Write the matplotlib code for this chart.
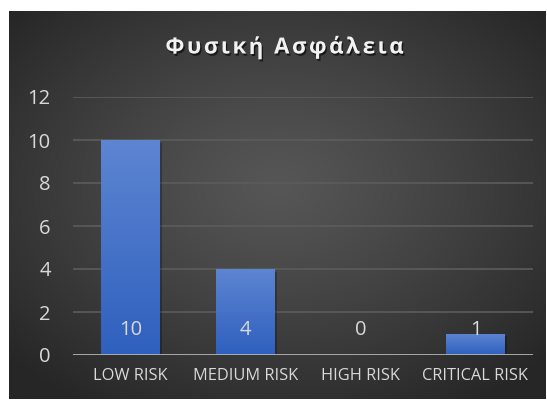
import numpy as np
import matplotlib
matplotlib.use("Agg")
import matplotlib.pyplot as plt
from matplotlib import patheffects as pe

categories = ["LOW RISK", "MEDIUM RISK", "HIGH RISK", "CRITICAL RISK"]
values = [10, 4, 0, 1]
y_ticks = [0, 2, 4, 6, 8, 10, 12]
title = "Φυσική Ασφάλεια"

W, H = 547, 401
plt.rcParams["font.family"] = ["Open Sans", "DejaVu Sans"]
fig = plt.figure(figsize=(W / 100, H / 100), dpi=100, facecolor="white")

# dark panel with a soft radial glow
bx0, by0, bx1, by1 = 9, 11, 546, 399
bg = fig.add_axes([bx0 / W, 1 - by1 / H, (bx1 - bx0) / W, (by1 - by0) / H])
yy, xx = np.mgrid[0:1:300j, 0:1:400j]
r = np.sqrt(((xx - 0.5) / 0.75) ** 2 + ((yy - 0.45) / 0.75) ** 2)
shade = 0x56 - (0x56 - 0x26) * np.clip(r / 0.9, 0, 1) ** 1.2
img = np.dstack([shade, shade, shade]) / 255.0
bg.imshow(img, aspect="auto", extent=[0, 1, 0, 1], interpolation="bilinear")
bg.set_axis_off()

# plotting area
ax = fig.add_axes([73 / W, 1 - 355 / H, 460 / W, (355 - 97) / H])
ax.patch.set_visible(False)
x = np.arange(len(categories))
ax.set_yticks(y_ticks)
ax.set_yticklabels([str(t) for t in y_ticks])
ax.set_xticks(x)
ax.set_xticklabels(categories)
for s in ax.spines.values():
    s.set_visible(False)
ax.tick_params(length=0, colors="#d9d9d9")
ax.tick_params(axis="y", labelsize=14.5, pad=16)
ax.tick_params(axis="x", labelsize=11.8, pad=9)
for t in y_ticks[1:]:
    ax.axhline(t, color="#5c5c5c", lw=1.2, zorder=1)
ax.axhline(0, color="#b3b3b3", lw=2, zorder=4)

bars = ax.bar(x, values, width=0.51, color="#4472c4", zorder=2)
grad = np.linspace(0, 1, 256).reshape(-1, 1)
top_c = np.array([0x5d, 0x85, 0xd2]) / 255
bot_c = np.array([0x2f, 0x60, 0xbe]) / 255
gimg = bot_c[None, None, :] * (1 - grad[..., None]) + top_c[None, None, :] * grad[..., None]
for b in bars:
    h = b.get_height()
    if h <= 0:
        continue
    # drop shadow
    ax.bar(b.get_x() + b.get_width() / 2 + 0.02, h, width=b.get_width(), bottom=-0.12,
           color="black", alpha=0.25, zorder=1.5, linewidth=0)
    im = ax.imshow(gimg, extent=[b.get_x(), b.get_x() + b.get_width(), 0, h],
                   origin="lower", aspect="auto", zorder=3)
    im.set_clip_path(b)
ax.set_xlim(-0.5, len(categories) - 0.5)
ax.set_ylim(0, 12)

for xi, v in zip(x, values):
    ax.annotate(str(v), (xi, 0), xytext=(0, 18), textcoords="offset points",
                ha="center", va="center", color="#d9d9d9", fontsize=14.5, zorder=5)

# letter-spaced title
renderer = fig.canvas.get_renderer()
tkw = dict(color="#f2f2f2", fontsize=16, fontweight="bold", va="center", ha="left")
spacing = 2.5  # extra pixels between letters


def text_width(s):
    t = fig.text(0, 0, s, **tkw)
    w = t.get_window_extent(renderer).width
    t.remove()
    return w


probe = text_width("l")
offsets = [text_width(title[:i] + "l") - probe if i else 0.0 for i in range(len(title))]
full = text_width(title) + spacing * (len(title) - 1)
cx = 284.5
start = cx - full / 2
for i, ch in enumerate(title):
    if ch == " ":
        continue
    px = start + offsets[i] + spacing * i
    fig.text(px / W, 1 - 48 / H, ch, **tkw,
             path_effects=[pe.withSimplePatchShadow(offset=(1, -1.5),
                                                    shadow_rgbFace="black", alpha=0.6)])

fig.savefig("out.png", dpi=100, facecolor="white")
